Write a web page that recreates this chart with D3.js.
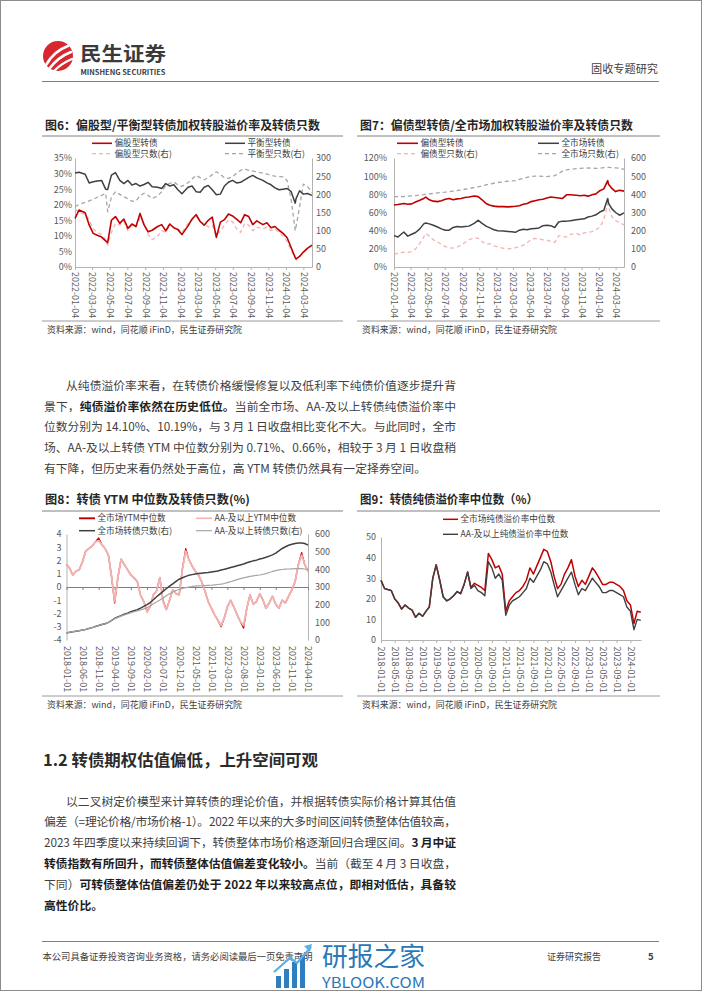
<!DOCTYPE html>
<html><head><meta charset="utf-8">
<script src="https://cdn.jsdelivr.net/npm/d3@7"></script>
<style>
html,body{margin:0;padding:0;background:#fff;}
svg text{font-family:"Noto Sans CJK SC","Noto Sans",sans-serif;}
</style></head><body>
<svg id="page" width="702" height="991" xmlns="http://www.w3.org/2000/svg"></svg>
<script>
// ---------------- DATA ----------------
const dates67 = ["2022-01-04","2022-01-18","2022-02-08","2022-02-22","2022-03-08","2022-03-22","2022-04-06","2022-04-20","2022-04-27","2022-05-10","2022-05-24","2022-06-08","2022-06-22","2022-07-06","2022-07-20","2022-08-03","2022-08-17","2022-08-31","2022-09-14","2022-09-28","2022-10-17","2022-10-31","2022-11-14","2022-11-28","2022-12-12","2022-12-26","2023-01-09","2023-01-30","2023-02-13","2023-02-27","2023-03-13","2023-03-27","2023-04-10","2023-04-24","2023-05-08","2023-05-22","2023-06-05","2023-06-19","2023-07-03","2023-07-17","2023-07-31","2023-08-14","2023-08-28","2023-09-11","2023-09-25","2023-10-16","2023-10-30","2023-11-13","2023-11-27","2023-12-11","2023-12-25","2024-01-08","2024-01-22","2024-02-05","2024-02-08","2024-02-20","2024-03-04","2024-03-18","2024-04-03"];
// 图6
const fig6StockPremium = [15.6,18.3,17.4,13.5,10.8,10.2,9.6,8.4,7.8,15.0,16.2,14.0,15.4,12.4,13.8,13.0,17.2,13.5,11.3,11.8,13.0,13.6,11.6,13.8,12.6,12.0,10.4,13.2,15.4,16.8,14.6,13.4,15.0,16.0,9.5,14.4,15.2,17.0,16.4,15.4,14.2,16.8,16.2,13.6,14.8,13.6,14.2,12.6,13.0,11.8,10.8,9.4,6.2,3.0,2.6,3.4,4.8,6.0,7.0];
const fig6BalancedPremium = [30.2,30.4,29.8,27.0,27.4,27.6,27.8,25.0,24.9,29.5,30.3,27.8,26.8,27.8,26.3,26.8,26.0,26.5,27.2,25.8,25.6,25.2,26.8,26.0,26.4,24.8,23.5,25.6,26.0,24.2,24.0,25.6,26.2,24.8,23.2,23.4,26.0,27.2,27.8,27.0,27.2,28.0,28.8,29.4,28.6,27.8,27.0,26.4,25.4,24.8,25.0,25.2,24.2,20.5,22.0,24.5,23.4,23.6,23.0];
const fig6StockCount = [160,150,145,130,105,95,90,75,60,95,120,115,125,100,115,110,135,120,90,75,85,100,95,115,110,105,95,120,130,140,125,120,110,115,85,100,115,130,125,105,95,120,115,100,110,105,110,100,105,95,85,70,45,25,20,30,40,50,60];
const fig6BalancedCount = [166,172,178,182,186,192,197,203,152,192,207,200,193,188,181,182,196,203,197,188,196,207,224,230,234,226,222,232,242,252,246,240,246,254,262,255,246,244,248,258,266,270,266,264,262,258,256,252,250,249,248,238,185,100,112,165,228,222,205];
// 图7
const fig7BondPremium = [68.3,68.8,70.0,69.0,69.5,71.5,73.5,75.5,77.0,74.0,72.5,72.0,73.0,74.5,75.5,74.0,75.0,75.5,76.5,77.0,78.2,77.5,74.0,70.0,68.0,67.0,66.5,66.5,66.2,66.5,66.8,67.5,69.0,70.0,72.0,73.0,74.0,74.5,76.0,77.0,76.5,76.0,75.5,79.5,79.5,79.0,78.5,79.0,78.0,79.5,80.5,84.0,86.0,95.0,91.0,86.5,83.0,84.5,83.5];
const fig7MarketPremium = [34.5,33.0,38.5,34.0,36.0,38.0,42.0,47.5,48.5,47.5,46.0,44.0,42.0,40.5,40.5,43.5,44.5,44.0,44.5,45.0,48.0,51.5,48.0,45.0,43.0,41.0,40.0,39.5,39.2,38.8,38.2,40.5,41.5,41.0,42.0,42.5,43.0,45.5,46.0,45.5,43.5,49.5,50.5,50.5,51.0,52.0,52.5,53.0,55.0,56.0,57.5,60.5,62.5,75.5,70.0,64.0,60.0,57.0,59.5];
const fig7BondCount = [70,75,82,80,85,100,130,165,185,170,150,138,125,112,105,104,110,120,135,150,162,158,140,125,128,118,110,103,100,102,106,112,120,135,150,158,155,150,148,140,135,172,170,165,180,185,175,188,190,195,205,220,260,350,330,275,255,245,232];
const fig7MarketCount = [387,387,388,390,392,393,396,398,400,402,405,408,410,412,415,418,421,424,428,432,437,441,446,452,457,461,465,469,472,474,476,482,488,494,498,500,500,499,498,500,503,515,528,535,538,541,543,544,545,544,543,544,547,548,548,547,546,543,538];
const fig67Ticks = ["2022-01-04","2022-03-04","2022-05-04","2022-07-04","2022-09-04","2022-11-04","2023-01-04","2023-03-04","2023-05-04","2023-07-04","2023-09-04","2023-11-04","2024-01-04","2024-03-04"];
const fig6LeftTicks = [0,5,10,15,20,25,30,35];
const fig6RightTicks = [0,50,100,150,200,250,300];
const fig7LeftTicks = [0,20,40,60,80,100,120];
const fig7RightTicks = [0,100,200,300,400,500,600];

// 图8 / 图9 (monthly)
const months = ["2018-01","2018-02","2018-03","2018-04","2018-05","2018-06","2018-07","2018-08","2018-09","2018-10","2018-11","2018-12",
"2019-01","2019-02","2019-03","2019-04","2019-05","2019-06","2019-07","2019-08","2019-09","2019-10","2019-11","2019-12",
"2020-01","2020-02","2020-03","2020-04","2020-05","2020-06","2020-07","2020-08","2020-09","2020-10","2020-11","2020-12",
"2021-01","2021-02","2021-03","2021-04","2021-05","2021-06","2021-07","2021-08","2021-09","2021-10","2021-11","2021-12",
"2022-01","2022-02","2022-03","2022-04","2022-05","2022-06","2022-07","2022-08","2022-09","2022-10","2022-11","2022-12",
"2023-01","2023-02","2023-03","2023-04","2023-05","2023-06","2023-07","2023-08","2023-09","2023-10","2023-11","2023-12",
"2024-01","2024-02","2024-03","2024-04"];
const fig8YtmMarket = [1.7,1.4,0.9,1.2,1.3,1.9,2.7,2.9,3.1,3.4,3.7,3.2,
2.9,2.4,0.9,-1.2,0.7,2.1,1.7,1.3,0.9,0.7,0.4,-0.6,
-1.1,-1.8,-1.5,-0.6,-0.3,0.7,-1.0,-1.7,-1.0,-0.2,-0.5,-0.6,
1.4,2.9,2.1,1.6,1.2,0.9,0.4,-0.3,-1.1,-1.6,-2.1,-2.5,
-3.0,-2.3,-1.5,-1.0,-1.5,-2.1,-2.6,-3.1,-1.6,-0.6,-1.3,-1.1,
-0.5,-1.0,-1.6,-1.2,-0.7,-1.3,-1.6,-1.0,-1.2,-0.7,-0.2,0.4,
1.7,2.6,1.7,1.2];
const fig8YtmAA = [1.7,1.4,0.9,1.2,1.3,1.9,2.7,2.9,3.1,3.4,3.5,3.2,
2.9,2.4,0.9,-1.1,0.7,2.1,1.7,1.3,0.9,0.7,0.4,-0.6,
-1.1,-1.9,-1.5,-0.6,-0.3,0.7,-1.1,-1.7,-1.0,-0.2,-0.5,-0.6,
1.4,2.7,2.1,1.6,1.2,0.9,0.4,-0.3,-1.1,-1.6,-2.1,-2.5,
-2.9,-2.3,-1.5,-1.0,-1.5,-2.1,-2.6,-2.9,-1.6,-0.6,-1.3,-1.1,
-0.5,-1.0,-1.6,-1.2,-0.7,-1.3,-1.6,-1.0,-1.2,-0.7,-0.2,0.4,
1.7,2.4,1.7,1.2];
const fig8CountMarket = [40,44,47,50,53,56,60,65,70,76,82,88,
92,100,110,122,130,138,146,152,160,166,172,180,
190,200,212,228,245,260,275,290,305,318,332,344,
352,360,366,370,373,376,378,380,382,385,388,391,
396,400,405,410,415,420,425,430,437,443,448,452,
458,463,468,475,482,492,505,518,528,536,542,546,
549,549,546,537];
const fig8CountAA = [40,44,47,50,53,56,60,65,70,76,82,88,
92,100,110,120,128,135,142,148,155,160,165,170,
176,183,192,205,215,226,238,250,262,272,280,287,
292,296,300,303,305,306,307,308,309,310,312,314,
316,320,325,330,336,342,347,352,356,360,363,366,
368,372,376,382,388,393,397,399,401,402,403,404,
404,404,402,398];
const fig8Ticks = ["2018-01-01","2018-06-01","2018-11-01","2019-04-01","2019-09-01","2020-02-01","2020-07-01","2020-12-01","2021-05-01","2021-10-01","2022-03-01","2022-08-01","2023-01-01","2023-06-01","2023-11-01","2024-04-01"];
const fig8LeftTicks = [-4,-3,-2,-1,0,1,2,3,4];
const fig8RightTicks = [0,100,200,300,400,500,600];

const fig9Market = [29,25,24.5,24,20,18,15,17,15.5,14.5,11,13,
11.5,14,16,30,36.5,29,21,19,20,21.5,23.5,22.5,
27,33,25.5,27.5,26.5,25.5,24,42,39,35,36,32,
14,19,21,23,24,26,29,35,32,36,40,44,
43,38,31,25,27,32,35,39,31,26,29,27,
31,35,33,30,27,27,28,28,27,26,24,19,
17,8,14,13.5];
const fig9AA = [29,25,24.5,24,20,18,15,17,15.5,14.5,11,13,
11.5,14,16,30,36.5,29,21,19,20,21.5,23.5,22.5,
27,33,25,26.5,24,23,21.5,38,35,30,32,29,
12,17,19,20,21,23,25,30,28,31,34,38,
37,33,27,21,24,27,30,33,27,22,25,24,
27,30,28,26,23,23,24,24,23,22,21,16,
14,5,10,9.5];
const fig9Ticks = ["2018-01-01","2018-05-01","2018-09-01","2019-01-01","2019-05-01","2019-09-01","2020-01-01","2020-05-01","2020-09-01","2021-01-01","2021-05-01","2021-09-01","2022-01-01","2022-05-01","2022-09-01","2023-01-01","2023-05-01","2023-09-01","2024-01-01"];
const fig9LeftTicks = [0,10,20,30,40,50];

// ---------------- DRAW ----------------
const svg = d3.select("#page");
const pD = d3.timeParse("%Y-%m-%d");
const pM = d3.timeParse("%Y-%m");
const AX = "#b3b3b3", LBL = "#595959";
const RED = "#c00000", DARK = "#404040", PINK = "#f2b3b3", GRAY = "#a6a6a6";

svg.append("rect").attr("x",0.5).attr("y",0.5).attr("width",701).attr("height",990)
  .attr("fill","#fff").attr("stroke","#8c8c8c");

// header
svg.append("circle").attr("cx",58).attr("cy",56).attr("r",15).attr("fill","#d7282f");
[["M46,65 Q54,51 68,46",2.6],["M49,69 Q58,57 71,52",2.6],["M54,71 Q62,63 72,59",2.4]].forEach(p=>
  svg.append("path").attr("d",p[0]).attr("fill","none").attr("stroke","#fff").attr("stroke-width",p[1]).attr("stroke-linecap","round"));
svg.append("text").attr("x",80).attr("y",60.5).attr("font-size",19.5).attr("font-weight","bold").attr("fill","#3a3a3a")
  .attr("textLength",86).attr("lengthAdjust","spacingAndGlyphs").text("民生证券");
svg.append("text").attr("x",80.5).attr("y",74.5).attr("font-size",6.8).attr("font-weight","bold").attr("fill","#3a3a3a")
  .attr("textLength",85).attr("lengthAdjust","spacingAndGlyphs").text("MINSHENG SECURITIES");
svg.append("text").attr("x",591).attr("y",73).attr("font-size",11.2).attr("fill","#404040")
  .attr("textLength",67).attr("lengthAdjust","spacingAndGlyphs").text("固收专题研究");
svg.append("line").attr("x1",42).attr("x2",659).attr("y1",81.5).attr("y2",81.5).attr("stroke","#808080");

function frame(x0, x1, title, tLen, yT, yL1, yL2, ySrc){
  svg.append("text").attr("x",x0+3).attr("y",yT).attr("font-size",12).attr("font-weight","bold").attr("fill","#262626")
    .attr("textLength",tLen).attr("lengthAdjust","spacingAndGlyphs").text(title);
  svg.append("line").attr("x1",x0).attr("x2",x1).attr("y1",yL1).attr("y2",yL1).attr("stroke","#808080").attr("stroke-width",1);
  svg.append("line").attr("x1",x0).attr("x2",x1).attr("y1",yL2).attr("y2",yL2).attr("stroke","#808080").attr("stroke-width",0.8);
  svg.append("text").attr("x",x0+5).attr("y",ySrc).attr("font-size",9).attr("fill","#404040")
    .attr("textLength",195).attr("lengthAdjust","spacingAndGlyphs").text("资料来源：wind，同花顺 iFinD，民生证券研究院");
}
frame(42,343,"图6：偏股型/平衡型转债加权转股溢价率及转债只数",275,129.5,136,321,332.5);
frame(357,660,"图7：偏债型转债/全市场加权转股溢价率及转债只数",273,129.5,136,321,332.5);
frame(42,343,"图8：转债 YTM 中位数及转债只数(%)",205,503.5,511,696,707.5);
frame(357,660,"图9：转债纯债溢价率中位数（%）",178,503.5,511,696,707.5);

function styleAxis(sel){
  sel.attr("font-family",null).attr("font-size",null);
  sel.selectAll("path.domain").attr("stroke",AX);
  sel.selectAll(".tick line").attr("stroke",AX);
  sel.selectAll("text").attr("fill",LBL).attr("font-size",9);
}

function drawChart(c){
  const g = svg.append("g");
  const x = d3.scaleTime().domain(c.xDomain.map(pD)).range([c.left,c.right]);
  const yL = d3.scaleLinear().domain(c.yLDomain).range([c.bottom,c.top]);
  const yR = c.yRDomain ? d3.scaleLinear().domain(c.yRDomain).range([c.bottom,c.top]) : null;
  const gl = g.append("g").attr("transform",`translate(${c.left},0)`)
    .call(d3.axisLeft(yL).tickValues(c.yLTicks).tickFormat(c.yLFmt).tickSize(0).tickSizeOuter(0).tickPadding(c.padL));
  styleAxis(gl);
  if (yR) {
    const gr = g.append("g").attr("transform",`translate(${c.right},0)`)
      .call(d3.axisRight(yR).tickValues(c.yRTicks).tickFormat(d=>String(d)).tickSize(0).tickSizeOuter(0).tickPadding(c.padR));
    styleAxis(gr);
  }
  const xt = c.xTicks.map(pD);
  const gx = g.append("g").attr("transform",`translate(0,${yL(c.xAxisAt)})`)
    .call(d3.axisBottom(x).tickValues(xt).tickSize(3).tickSizeOuter(0).tickFormat(""));
  styleAxis(gx);
  if (c.zeroColor) gx.selectAll("path.domain, .tick line").attr("stroke",c.zeroColor);
  const gxl = g.append("g").attr("transform",`translate(0,${c.bottom})`)
    .call(d3.axisBottom(x).tickValues(xt).tickSize(0).tickFormat(d3.timeFormat("%Y-%m-%d")));
  gxl.select(".domain").remove();
  styleAxis(gxl);
  gxl.selectAll("text").attr("transform","rotate(90)").attr("x",c.labelOff).attr("y",0)
    .attr("dy","0.35em").attr("text-anchor","start");
  c.series.forEach(s=>{
    const ys = s.axis==="R" ? yR : yL;
    const pts = s.dates.map((d,i)=>[x(s.parse(d)), ys(s.values[i])]);
    g.append("path").attr("d", d3.line()(pts)).attr("fill","none").attr("stroke",s.color)
      .attr("stroke-width",s.width).attr("stroke-dasharray",s.dash||null).attr("stroke-linejoin","round");
  });
  c.legend.forEach(l=>{
    g.append("line").attr("x1",l.x).attr("x2",l.x+l.w).attr("y1",l.y).attr("y2",l.y)
      .attr("stroke",l.color).attr("stroke-width",l.width).attr("stroke-dasharray",l.dash||null);
    g.append("text").attr("x",l.x+l.w+2.5).attr("y",l.y+3).attr("font-size",8.6).attr("fill","#404040").text(l.label);
  });
}

const d67 = {dates:dates67, parse:pD};
drawChart({
  left:75, right:312, top:158, bottom:267, padL:3, padR:4, labelOff:5, xAxisAt:0,
  xDomain:["2022-01-04","2024-04-03"], xTicks:fig67Ticks,
  yLDomain:[0,35], yLTicks:fig6LeftTicks, yLFmt:d=>d+"%",
  yRDomain:[0,300], yRTicks:fig6RightTicks,
  series:[
    {...d67, values:fig6StockCount, axis:"R", color:PINK, width:1.3, dash:"4,3"},
    {...d67, values:fig6BalancedCount, axis:"R", color:GRAY, width:1.3, dash:"4,3"},
    {...d67, values:fig6BalancedPremium, axis:"L", color:DARK, width:1.5},
    {...d67, values:fig6StockPremium, axis:"L", color:RED, width:1.6}
  ],
  legend:[
    {x:92,y:143.3,w:20,color:RED,width:1.6,label:"偏股型转债"},
    {x:225,y:143.3,w:20,color:DARK,width:1.5,label:"平衡型转债"},
    {x:92,y:153.6,w:20,color:PINK,width:1.3,dash:"4,3",label:"偏股型只数(右)"},
    {x:225,y:153.6,w:20,color:GRAY,width:1.3,dash:"4,3",label:"平衡型只数(右)"}
  ]
});
drawChart({
  left:394, right:624, top:158, bottom:267, padL:7, padR:7, labelOff:5, xAxisAt:0,
  xDomain:["2022-01-04","2024-04-03"], xTicks:fig67Ticks,
  yLDomain:[0,120], yLTicks:fig7LeftTicks, yLFmt:d=>d+"%",
  yRDomain:[0,600], yRTicks:fig7RightTicks,
  series:[
    {...d67, values:fig7BondCount, axis:"R", color:PINK, width:1.3, dash:"4,3"},
    {...d67, values:fig7MarketCount, axis:"R", color:GRAY, width:1.3, dash:"4,3"},
    {...d67, values:fig7MarketPremium, axis:"L", color:DARK, width:1.5},
    {...d67, values:fig7BondPremium, axis:"L", color:RED, width:1.6}
  ],
  legend:[
    {x:397,y:143.3,w:21,color:RED,width:1.6,label:"偏债型转债"},
    {x:538,y:143.3,w:21,color:DARK,width:1.5,label:"全市场转债"},
    {x:397,y:153.6,w:21,color:PINK,width:1.3,dash:"4,3",label:"偏债型只数(右)"},
    {x:538,y:153.6,w:21,color:GRAY,width:1.3,dash:"4,3",label:"全市场只数(右)"}
  ]
});
const dm = {dates:months, parse:pM};
drawChart({
  left:66.5, right:308, top:534, bottom:640, padL:5, padR:7, labelOff:6, xAxisAt:0, zeroColor:"#7f7f7f",
  xDomain:["2018-01-01","2024-04-01"], xTicks:fig8Ticks,
  yLDomain:[-4,4], yLTicks:fig8LeftTicks, yLFmt:d=>String(d),
  yRDomain:[0,600], yRTicks:fig8RightTicks,
  series:[
    {...dm, values:fig8YtmMarket, axis:"L", color:RED, width:1.3},
    {...dm, values:fig8YtmAA, axis:"L", color:PINK, width:1.9},
    {...dm, values:fig8CountMarket, axis:"R", color:DARK, width:1.5},
    {...dm, values:fig8CountAA, axis:"R", color:GRAY, width:1.2}
  ],
  legend:[
    {x:79,y:518.3,w:16,color:RED,width:1.9,label:"全市场YTM中位数"},
    {x:196,y:518.3,w:16,color:PINK,width:1.6,label:"AA-及以上YTM中位数"},
    {x:79,y:530.7,w:16,color:DARK,width:1.5,label:"全市场转债只数(右)"},
    {x:196,y:530.7,w:16,color:GRAY,width:1.2,label:"AA-及以上转债只数(右)"}
  ]
});
drawChart({
  left:381, right:641, top:537, bottom:640, padL:5, padR:0, labelOff:6.5, xAxisAt:0,
  xDomain:["2018-01-01","2024-04-03"], xTicks:fig9Ticks,
  yLDomain:[0,50], yLTicks:fig9LeftTicks, yLFmt:d=>String(d),
  yRDomain:null,
  series:[
    {...dm, values:fig9Market, axis:"L", color:RED, width:1.5},
    {...dm, values:fig9AA, axis:"L", color:DARK, width:1.4}
  ],
  legend:[
    {x:443,y:519.3,w:15,color:RED,width:1.5,label:"全市场纯债溢价率中位数"},
    {x:443,y:534.3,w:15,color:DARK,width:1.4,label:"AA-及以上纯债溢价率中位数"}
  ]
});

// ---------------- TEXT ----------------
const FS = 11.8, XS = 44, XE = 456;
function para(lines, yStart, lh){
  lines.forEach((ln,i)=>{
    const x = ln.indent ? XS + 22 : XS;
    const t = svg.append("text").attr("x",x).attr("y",yStart+i*lh).attr("font-size",FS).attr("fill","#3f3f3f");
    ln.segs.forEach(s=>{
      const ts = t.append("tspan").text(s.t);
      if (s.b) ts.attr("font-weight","bold").attr("fill","#1e1e1e");
    });
    if (ln.justify) t.attr("textLength", XE - x).attr("lengthAdjust","spacing");
  });
}
const para1 = [
  {indent:true, justify:true, segs:[{t:"从纯债溢价率来看，在转债价格缓慢修复以及低利率下纯债价值逐步提升背"}]},
  {justify:true, segs:[{t:"景下，"},{t:"纯债溢价率依然在历史低位。",b:true},{t:"当前全市场、AA-及以上转债纯债溢价率中"}]},
  {justify:true, segs:[{t:"位数分别为 14.10%、10.19%，与 3 月 1 日收盘相比变化不大。与此同时，全市"}]},
  {justify:true, segs:[{t:"场、AA-及以上转债 YTM 中位数分别为 0.71%、0.66%，相较于 3 月 1 日收盘稍"}]},
  {justify:false, segs:[{t:"有下降，但历史来看仍然处于高位，高 YTM 转债仍然具有一定择券空间。"}]}
];
para(para1, 389.8, 20.8);

svg.append("text").attr("x",43).attr("y",766).attr("font-size",16).attr("font-weight","bold").attr("fill","#2b2b2b")
  .attr("textLength",275).attr("lengthAdjust","spacingAndGlyphs").text("1.2 转债期权估值偏低，上升空间可观");

const para2 = [
  {indent:true, justify:true, segs:[{t:"以二叉树定价模型来计算转债的理论价值，并根据转债实际价格计算其估值"}]},
  {justify:true, segs:[{t:"偏差（=理论价格/市场价格-1）。2022 年以来的大多时间区间转债整体估值较高，"}]},
  {justify:true, segs:[{t:"2023 年四季度以来持续回调下，转债整体市场价格逐渐回归合理区间。"},{t:"3 月中证",b:true}]},
  {justify:true, segs:[{t:"转债指数有所回升，而转债整体估值偏差变化较小。",b:true},{t:"当前（截至 4 月 3 日收盘，"}]},
  {justify:true, segs:[{t:"下同）"},{t:"可转债整体估值偏差仍处于  2022  年以来较高点位，即相对低估，具备较",b:true}]},
  {justify:false, segs:[{t:"高性价比。",b:true}]}
];
para(para2, 805.5, 20.9);

// footer
svg.append("line").attr("x1",42).attr("x2",659).attr("y1",941.5).attr("y2",941.5).attr("stroke","#808080");
svg.append("text").attr("x",42.5).attr("y",960).attr("font-size",9.3).attr("fill","#404040")
  .attr("textLength",270).attr("lengthAdjust","spacingAndGlyphs").text("本公司具备证券投资咨询业务资格，请务必阅读最后一页免责声明");
svg.append("text").attr("x",547).attr("y",960).attr("font-size",9.3).attr("fill","#404040")
  .attr("textLength",54).attr("lengthAdjust","spacingAndGlyphs").text("证券研究报告");
svg.append("text").attr("x",648).attr("y",960).attr("font-size",9.5).attr("font-weight","bold").attr("fill","#404040").text("5");

// watermark
const wm = svg.append("g");
[[276,976,5,12],[284,969,5,19],[292,962,5,26],[300,955,5,33]].forEach(b=>
  wm.append("rect").attr("x",b[0]).attr("y",b[1]).attr("width",b[2]).attr("height",b[3]).attr("fill","#2f7fc0"));
wm.append("path").attr("d","M274,972 L290,958 L297,963 L311,947").attr("fill","none").attr("stroke","#5ab0e8").attr("stroke-width",2.2);
wm.append("path").attr("d","M312,944 L304,946 L310,952 Z").attr("fill","#5ab0e8");
wm.append("text").attr("x",322).attr("y",966).attr("font-size",26).attr("fill","#2a78b8")
  .attr("textLength",103).attr("lengthAdjust","spacingAndGlyphs").text("研报之家");
wm.append("text").attr("x",322).attr("y",988).attr("font-size",15).attr("fill","#2a78b8")
  .attr("textLength",103).attr("lengthAdjust","spacingAndGlyphs").text("YBLOOK.COM");
</script>
</body></html>
